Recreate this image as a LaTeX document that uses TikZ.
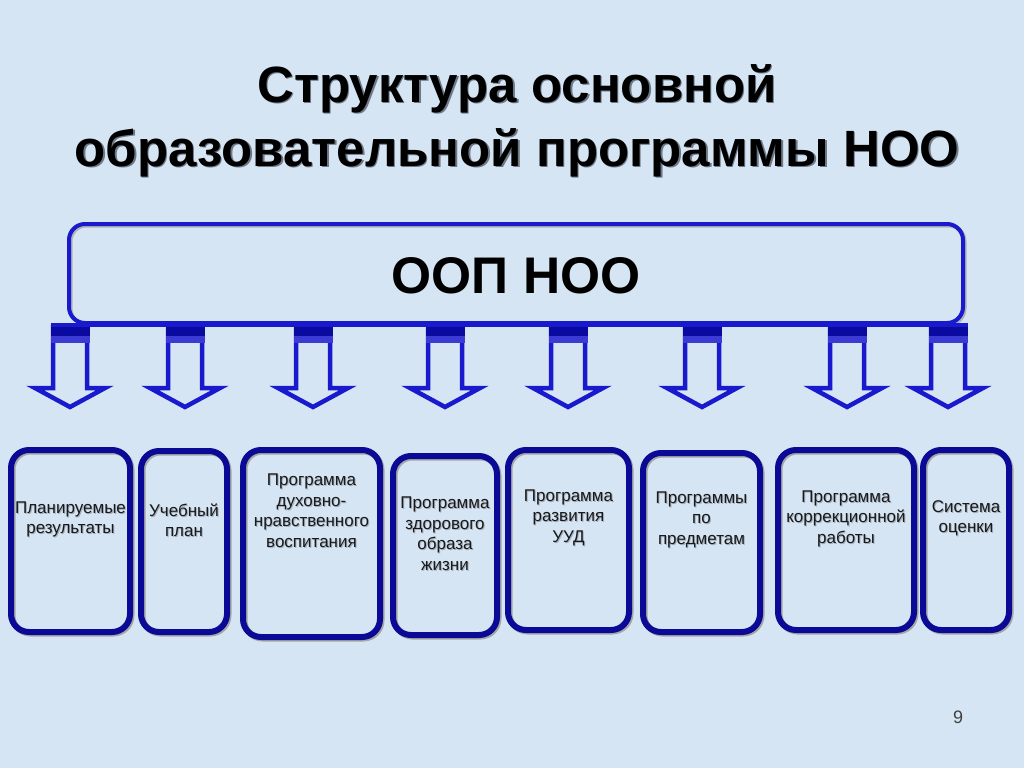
\documentclass[tikz,border=0pt]{standalone}
\usepackage{fontspec}
\setmainfont{Liberation Sans}
\definecolor{bgc}{RGB}{214,229,243}
\definecolor{boxc}{RGB}{10,10,150}
\definecolor{arrc}{RGB}{25,25,205}
\definecolor{arrdark}{RGB}{10,10,160}
\definecolor{titsh}{RGB}{110,120,135}
\definecolor{txtshc}{RGB}{165,175,190}
\definecolor{txtc}{RGB}{25,25,25}
\newcommand{\tsh}[1]{\makebox[0pt][l]{\hspace{1.5pt}\raisebox{-1.5pt}{\textcolor{titsh}{#1}}}#1}
\newcommand{\bsh}[1]{\makebox[0pt][l]{\hspace{1pt}\raisebox{-1pt}{\textcolor{txtshc}{#1}}}#1}
\tikzset{
  progbox/.style={draw=boxc, line width=6pt, rounded corners=18pt, inner sep=0pt,
    preaction={draw=black!35, line width=6pt, transform canvas={shift={(1.5pt,-1.5pt)}}}},
  boxtext/.style={align=center, text=txtc, font=\fontsize{17}{20.5}\selectfont, inner sep=0pt},
  bigbox/.style={draw=arrc, line width=4pt, rounded corners=16pt, inner sep=0pt,
    preaction={draw=black!30, line width=4pt, transform canvas={shift={(1.5pt,-1.5pt)}}}},
  titletext/.style={font=\fontsize{51}{51}\selectfont\bfseries, text=black, inner sep=0pt, anchor=base, text height=37pt, text depth=0pt},
  hollowarrow/.style={draw=arrc, fill=bgc, line width=4.5pt, line join=miter},
}
\begin{document}
\begin{tikzpicture}[x=1pt, y=-1pt]
\fill[bgc] (0,0) rectangle (1024,768);
\useasboundingbox (0,0) rectangle (1024,768);

% title
\node[titletext] (t1) at (517,102) {\tsh{Структура основной}};
\node[titletext] (t2) at (517,166) {\tsh{образовательной программы НОО}};

% big box
\node[bigbox, minimum width=894pt, minimum height=99pt] (oop) at (516,273.5) {};
\node[font=\fontsize{51.5}{51.5}\selectfont\bfseries, inner sep=0pt, anchor=base] (ooptext) at (516,293) {ООП НОО};

% arrows
\foreach \c [count=\i] in {70,185,313,445,568,702,847,948} {
  \coordinate (a\i) at (\c,325);
  \draw[hollowarrow, shift={(\c,0)}] (-17,327) -- (17,327) -- (17,388) -- (35,388) -- (0,407) -- (-35,388) -- (-17,388) -- cycle;
  \fill[arrdark] (\c-19.5,323) rectangle (\c+19.5,336);
  \fill[arrc!85!white] (\c-19.5,336) rectangle (\c+19.5,343);
}
\draw[arrc, line width=4pt] (a1) ++(-19.5,0) -- ([xshift=19.5pt]a8);

% boxes
\node[progbox, minimum width=119pt, minimum height=182pt] (b1) at (70.5,541) {};
\node[progbox, minimum width=86pt,  minimum height=181pt] (b2) at (184,541.5) {};
\node[progbox, minimum width=137pt, minimum height=187pt] (b3) at (311.5,543.5) {};
\node[progbox, minimum width=104pt, minimum height=179pt] (b4) at (445,545.5) {};
\node[progbox, minimum width=121pt, minimum height=180pt] (b5) at (568.5,540) {};
\node[progbox, minimum width=117pt, minimum height=179pt] (b6) at (701.5,542.5) {};
\node[progbox, minimum width=136pt, minimum height=180pt] (b7) at (846,540) {};
\node[progbox, minimum width=86pt,  minimum height=180pt] (b8) at (966,540) {};

% texts
\node[boxtext] (x1) at (70.5,520) {\bsh{Планируемые}\\\bsh{результаты}};
\node[boxtext] (x2) at (184,521) {\bsh{Учебный}\\\bsh{план}};
\node[boxtext] (x3) at (311.5,511) {\bsh{Программа}\\\bsh{духовно-}\\\bsh{нравственного}\\\bsh{воспитания}};
\node[boxtext] (x4) at (445,534) {\bsh{Программа}\\\bsh{здорового}\\\bsh{образа}\\\bsh{жизни}};
\node[boxtext] (x5) at (568.5,518) {\bsh{Программа}\\\bsh{развития}\\\bsh{УУД}};
\node[boxtext] (x6) at (701.5,520) {\bsh{Программы}\\\bsh{по}\\\bsh{предметам}};
\node[boxtext] (x7) at (846,519) {\bsh{Программа}\\\bsh{коррекционной}\\\bsh{работы}};
\node[boxtext] (x8) at (966,519) {\bsh{Система}\\\bsh{оценки}};

% page number
\node[font=\fontsize{18}{18}\selectfont, text=black!75, inner sep=0pt] (pg) at (958,717) {9};
\end{tikzpicture}
\end{document}
